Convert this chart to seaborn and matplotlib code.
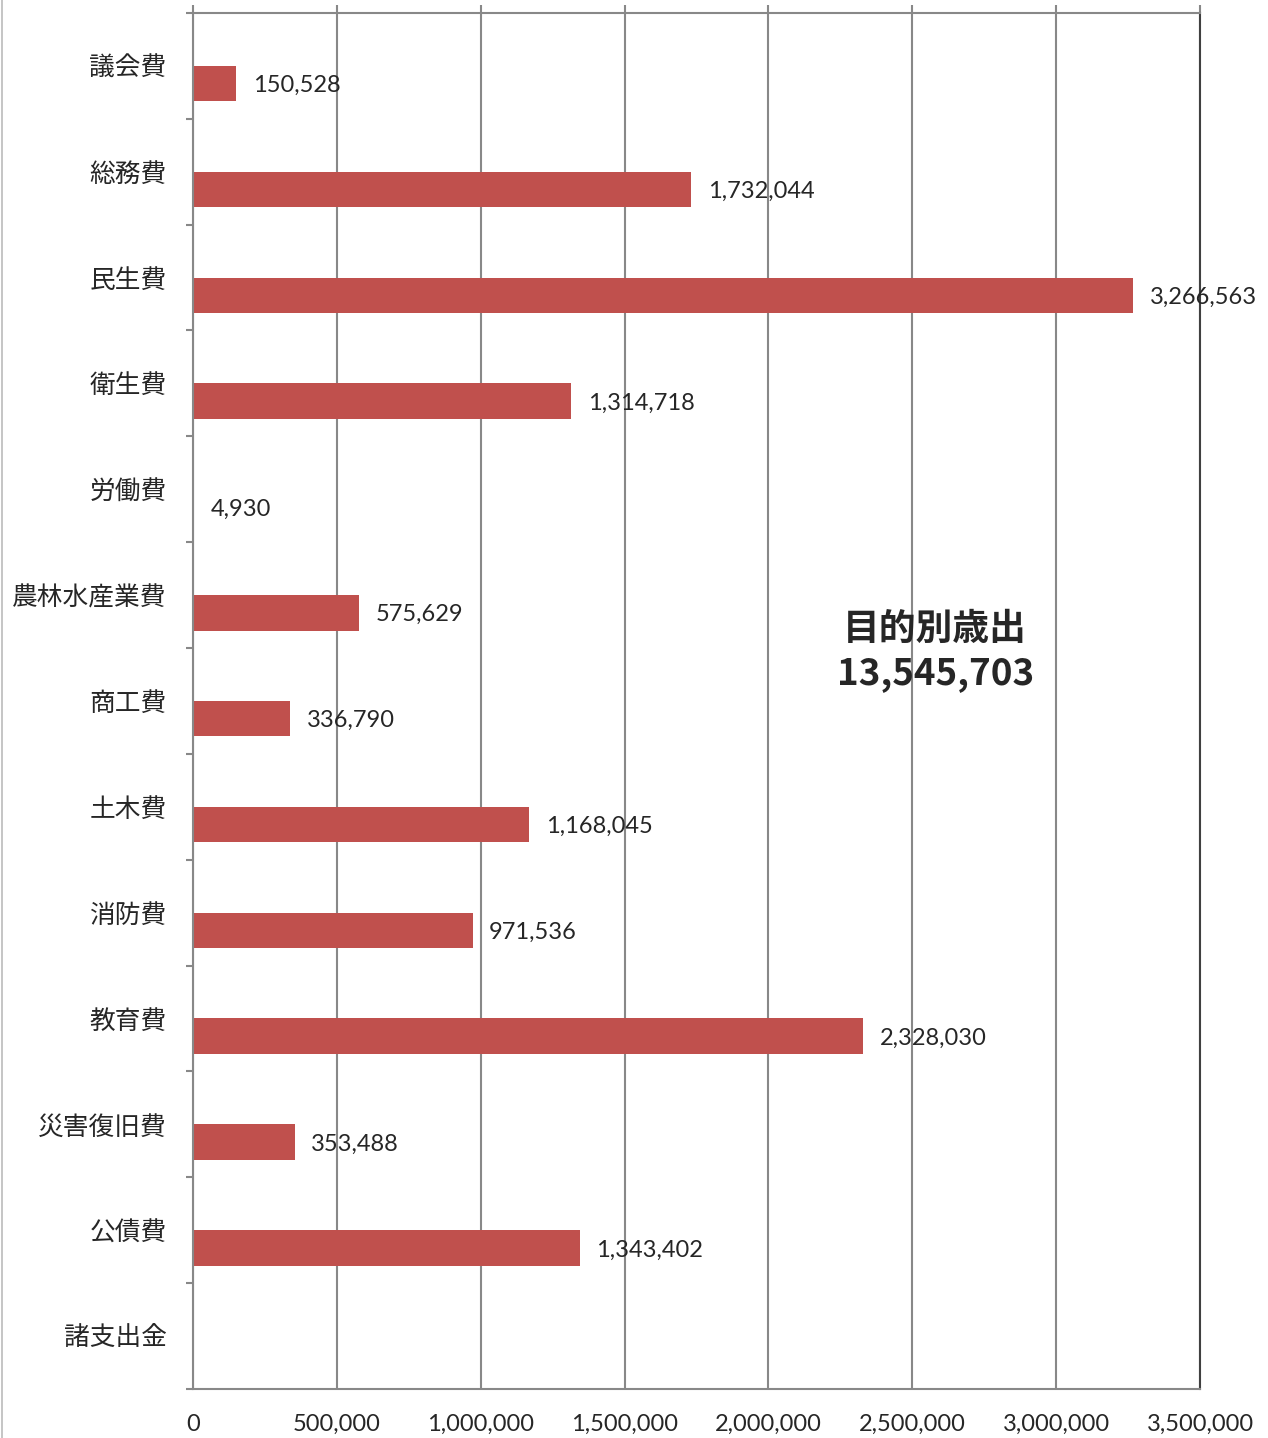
import pandas as pd
import seaborn as sns
import matplotlib.pyplot as plt
from matplotlib.lines import Line2D
from matplotlib.ticker import FuncFormatter, MultipleLocator, FixedLocator

# 目的別歳出 data
categories = ['議会費', '総務費', '民生費', '衛生費', '労働費', '農林水産業費', '商工費',
              '土木費', '消防費', '教育費', '災害復旧費', '公債費', '諸支出金']
values = [150528, 1732044, 3266563, 1314718, 4930, 575629, 336790,
          1168045, 971536, 2328030, 353488, 1343402, 0]
total_label = '目的別歳出\n13,545,703'

# long table; an empty first series keeps the bars in the lower half of each slot (Excel style)
df = pd.DataFrame({
    'category': categories * 2,
    'series': ['blank'] * len(categories) + ['歳出'] * len(categories),
    'value': [0] * len(categories) + values,
})

sns.set_theme(style='white')
plt.rcParams['font.family'] = ['Lato', 'Noto Sans CJK JP', 'DejaVu Sans']

fig = plt.figure(figsize=(12.68, 14.38), dpi=100)
ax = fig.add_axes([0.1522, 0.0341, 0.7942, 0.9569])

sns.barplot(data=df, x='value', y='category', hue='series', hue_order=['blank', '歳出'],
            palette={'blank': 'white', '歳出': '#C0504D'}, saturation=1, width=0.67,
            errorbar=None, linewidth=0, legend=False, ax=ax, orient='h')

ax.set_xlim(0, 3500000)
ax.set_ylim(len(categories) - 0.5, -0.5)
ax.set_xlabel('')
ax.set_ylabel('')

# value labels next to bars
bars = ax.containers[1]
texts = ax.bar_label(bars, labels=[f'{v:,}' if v > 0 else '' for v in values],
                     padding=12, fontsize=17)
for t in texts:
    t.set_va('center_baseline')

# x axis
ax.xaxis.set_major_locator(MultipleLocator(500000))
ax.xaxis.set_major_formatter(FuncFormatter(lambda v, p: f'{int(v):,}'))
ax.grid(axis='x', color='#888888', linewidth=1.5)
ax.grid(axis='y', visible=False)
ax.tick_params(axis='x', bottom=False, top=True, labelbottom=True, labeltop=False,
               length=6, width=1.5, color='#888888', pad=12, labelsize=17)

# y axis: labels at slot centres, tick marks at slot boundaries
ax.tick_params(axis='y', which='major', length=0, pad=19)
ax.yaxis.set_minor_locator(FixedLocator([i - 0.5 for i in range(len(categories) + 1)]))
ax.tick_params(axis='y', which='minor', left=True, length=5, width=1.5, color='#888888')
for lab in ax.get_yticklabels():
    lab.set_family(['Noto Sans CJK JP'])
    lab.set_fontsize(18.5)

for side in ['left', 'top', 'bottom']:
    ax.spines[side].set_color('#888888')
    ax.spines[side].set_linewidth(1.5)
ax.spines['right'].set_color('#404040')
ax.spines['right'].set_linewidth(1.5)

ax.text(0.737, 0.536, total_label, transform=ax.transAxes, ha='center', va='center',
        fontsize=26.5, fontweight='bold', family=['Noto Sans CJK JP'], linespacing=1.25)

# thin frame line on the left edge of the image
fig.add_artist(Line2D([0.0012, 0.0012], [0, 1], color='#bbbbbb', linewidth=1.2))

fig.savefig('out.png', dpi=100)
